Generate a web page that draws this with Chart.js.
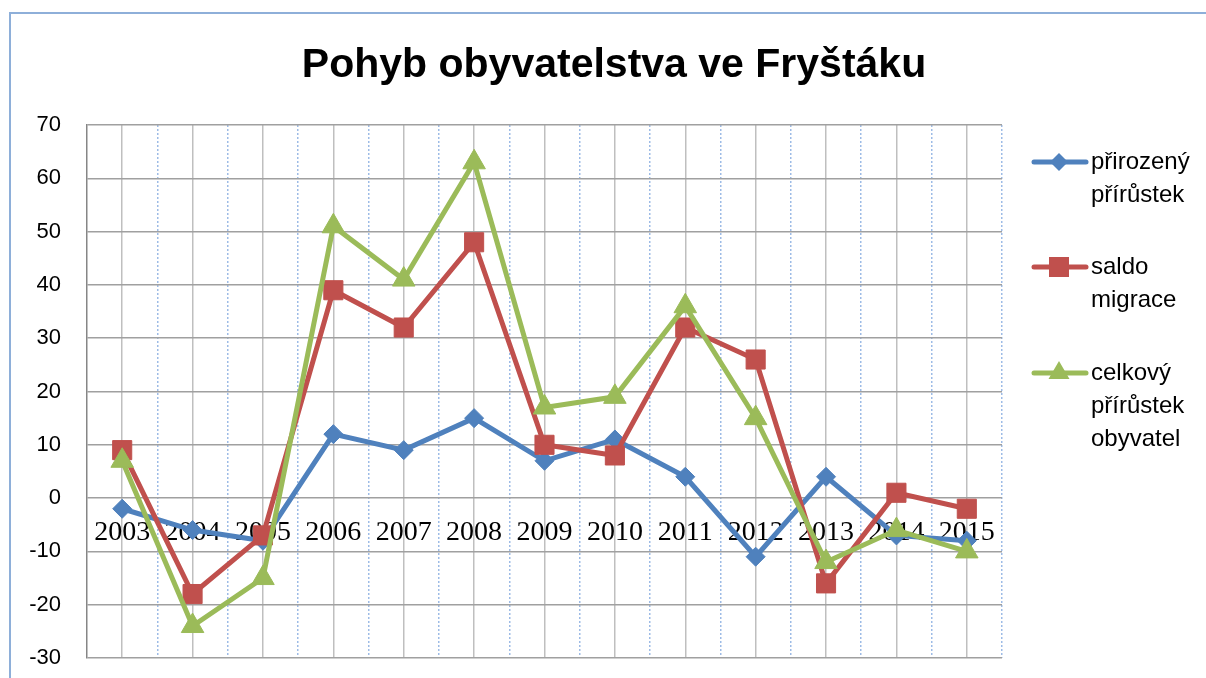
<!DOCTYPE html>
<html>
<head>
<meta charset="utf-8">
<script src="https://cdn.jsdelivr.net/npm/chart.js@4/dist/chart.umd.min.js"></script>
<style>
  html, body { margin: 0; padding: 0; background: #fff; }
  #wrap { width: 1206px; height: 678px; position: relative; }
</style>
</head>
<body>
<div id="wrap"><canvas id="graf"></canvas></div>
<script>
// roky na ose x
const years = ['2003', '2004', '2005', '2006', '2007', '2008', '2009', '2010', '2011', '2012', '2013', '2014', '2015'];

// hodnoty jednotlivých řad
const prirozenyPrirustek = [-2, -6, -8, 12, 9, 15, 7, 11, 4, -11, 4, -7, -8];
const saldoMigrace = [9, -18, -7, 39, 32, 48, 10, 8, 32, 26, -16, 1, -2];
const celkovyPrirustek = [7, -24, -15, 51, 41, 63, 17, 19, 36, 15, -12, -6, -10];

// rozsah osy y
const yMin = -30;
const yMax = 70;
const yStep = 10;

const chartTitle = 'Pohyb obyvatelstva ve Fryštáku';

const legendItems = [
    { lines: ['přirozený', 'přírůstek'], color: '#4F81BD', marker: 'diamond' },
    { lines: ['saldo', 'migrace'], color: '#C0504D', marker: 'square' },
    { lines: ['celkový', 'přírůstek', 'obyvatel'], color: '#9BBB59', marker: 'triangle' }
];

function drawMarker(ctx, type, x, y, color) {
    ctx.save();
    ctx.fillStyle = color;
    ctx.beginPath();
    if (type === 'diamond') {
        ctx.moveTo(x - 9, y); ctx.lineTo(x, y - 9); ctx.lineTo(x + 9, y); ctx.lineTo(x, y + 9);
    } else if (type === 'square') {
        ctx.rect(x - 10, y - 10, 20, 20);
    } else {
        ctx.moveTo(x, y - 12); ctx.lineTo(x + 10.5, y + 6); ctx.lineTo(x - 10.5, y + 6);
    }
    ctx.closePath();
    ctx.fill();
    ctx.restore();
}

// okraje os nemají ovlivnit velikost plochy grafu
function noPadding(scale) {
    scale.paddingTop = 0;
    scale.paddingBottom = 0;
    scale.paddingLeft = 0;
    scale.paddingRight = 0;
}

// rámeček, nadpis a legenda
const decorPlugin = {
    id: 'decor',
    beforeDraw(chart) {
        const ctx = chart.ctx;
        ctx.save();
        ctx.fillStyle = '#fff';
        ctx.fillRect(0, 0, chart.width, chart.height);
        ctx.strokeStyle = '#8EAFD9';
        ctx.lineWidth = 2;
        ctx.strokeRect(10, 13, chart.width + 20, chart.height + 20);
        ctx.restore();
    },
    afterDraw(chart) {
        const ctx = chart.ctx;
        ctx.save();
        ctx.fillStyle = '#000';
        ctx.font = 'bold 41px "Liberation Sans", Arial, sans-serif';
        ctx.textAlign = 'center';
        ctx.textBaseline = 'middle';
        ctx.fillText(chartTitle, 614, 66);

        const tops = [162, 267, 373];
        ctx.font = '24px "Liberation Sans", Arial, sans-serif';
        ctx.textAlign = 'left';
        legendItems.forEach((item, i) => {
            const y = tops[i];
            ctx.strokeStyle = item.color;
            ctx.lineWidth = 5;
            ctx.lineCap = 'round';
            ctx.beginPath();
            ctx.moveTo(1034, y);
            ctx.lineTo(1086, y);
            ctx.stroke();
            drawMarker(ctx, item.marker, 1059, y, item.color);
            ctx.fillStyle = '#000';
            item.lines.forEach((t, j) => ctx.fillText(t, 1091, y + j * 33));
        });
        ctx.restore();
    }
};

const ctx = document.getElementById('graf').getContext('2d');
const chart = new Chart(ctx, {
    type: 'line',
    data: {
        labels: years,
        datasets: [
            {
                label: 'přirozený přírůstek',
                data: prirozenyPrirustek,
                borderColor: '#4F81BD',
                backgroundColor: '#4F81BD',
                borderWidth: 5,
                pointStyle: 'rectRot',
                pointRadius: 9.5,
                pointBorderWidth: 1,
                order: 2
            },
            {
                label: 'saldo migrace',
                data: saldoMigrace,
                borderColor: '#C0504D',
                backgroundColor: '#C0504D',
                borderWidth: 5,
                pointStyle: 'rect',
                pointRadius: 13.5,
                pointBorderWidth: 1,
                order: 1
            },
            {
                label: 'celkový přírůstek obyvatel',
                data: celkovyPrirustek,
                borderColor: '#9BBB59',
                backgroundColor: '#9BBB59',
                borderWidth: 5,
                pointStyle: 'triangle',
                pointRadius: 13,
                pointBorderWidth: 1,
                order: 0
            }
        ]
    },
    options: {
        responsive: true,
        maintainAspectRatio: false,
        animation: false,
        layout: {
            padding: { left: 0, right: 204, top: 125, bottom: 20 }
        },
        plugins: {
            legend: { display: false },
            title: { display: false },
            tooltip: { enabled: false }
        },
        elements: {
            line: { tension: 0 }
        },
        scales: {
            x: {
                type: 'category',
                position: { y: 0 },
                offset: true,
                grid: {
                    offset: false,
                    color: '#BFBFBF',
                    lineWidth: 1.5,
                    drawTicks: false
                },
                border: { display: false },
                ticks: {
                    padding: 18,
                    maxRotation: 0,
                    autoSkip: false,
                    color: '#000',
                    font: { family: '"Liberation Serif", "DejaVu Serif", serif', size: 28 }
                },
                afterFit: noPadding
            },
            x2: {
                type: 'category',
                labels: years,
                position: 'bottom',
                offset: true,
                grid: {
                    offset: true,
                    color: (c) => c.index === 0 ? 'rgba(0,0,0,0)' : '#9DBBE6',
                    lineWidth: 1.5,
                    drawTicks: false
                },
                border: { display: false, dash: [2, 2] },
                ticks: { display: false },
                afterFit(scale) { scale.height = 0; noPadding(scale); }
            },
            y: {
                min: yMin,
                max: yMax,
                grid: {
                    color: '#A0A0A0',
                    lineWidth: 1.5,
                    drawTicks: false
                },
                border: { display: true, color: '#868686', width: 1.5 },
                ticks: {
                    stepSize: yStep,
                    padding: 26,
                    color: '#000',
                    font: { family: '"Liberation Sans", Arial, sans-serif', size: 22 }
                },
                afterFit(scale) { scale.width = 87; noPadding(scale); }
            }
        }
    },
    plugins: [decorPlugin]
});
</script>
</body>
</html>
